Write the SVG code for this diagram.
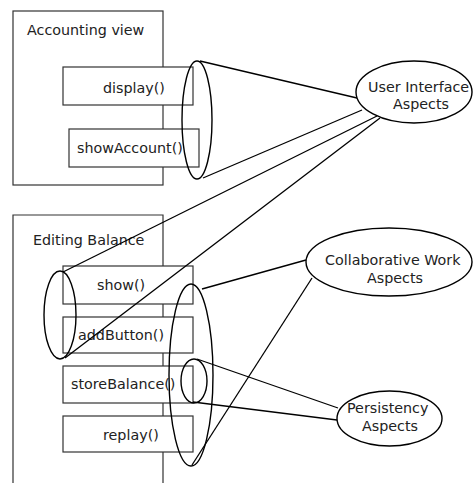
<svg xmlns="http://www.w3.org/2000/svg" width="473" height="483" viewBox="0 0 473 483">
<style>
text{font-family:"DejaVu Sans",Verdana,sans-serif;font-size:14.3px;fill:#222}
.box{fill:#fff;stroke:#333;stroke-width:1.2}
.cont{fill:none;stroke:#333;stroke-width:1.2}
.grp{fill:none;stroke:#000;stroke-width:1.4}
.asp{fill:#fff;stroke:#000;stroke-width:1.4}
.con line{stroke:#000;stroke-width:1.3}
</style>
<rect width="473" height="483" fill="#fff"/>
<g id="accounting-view">
<rect class="cont" x="13" y="11" width="150" height="174"/>
<text x="27" y="35">Accounting view</text>
</g>
<g id="editing-balance">
<path class="cont" d="M13,490 V215 H163 V490"/>
<text x="33" y="245">Editing Balance</text>
</g>
<g id="display"><rect class="box" x="63" y="67" width="130" height="38"/><text x="103" y="93">display()</text></g>
<g id="showAccount"><rect class="box" x="69" y="129" width="130" height="38"/><text x="77" y="153">showAccount()</text></g>
<g id="show"><rect class="box" x="63" y="266" width="130" height="38"/><text x="97" y="290">show()</text></g>
<g id="addButton"><rect class="box" x="63" y="317" width="130" height="36"/><text x="78" y="340">addButton()</text></g>
<g id="storeBalance"><rect class="box" x="63" y="366" width="130" height="37"/><text x="71" y="389">storeBalance()</text></g>
<g id="replay"><rect class="box" x="63" y="416" width="130" height="36"/><text x="103" y="440">replay()</text></g>
<g id="ui-group"><ellipse class="grp" cx="197" cy="120" rx="15" ry="59"/></g>
<g id="ui-group-2"><ellipse class="grp" cx="60" cy="315" rx="16" ry="44"/></g>
<g id="collab-group"><ellipse class="grp" cx="191" cy="375" rx="22" ry="91"/></g>
<g id="persist-group"><ellipse class="grp" cx="194" cy="381" rx="13" ry="22"/></g>
<g class="con" id="connectors">
<line x1="200" y1="61" x2="357" y2="98"/>
<line x1="203" y1="178" x2="362" y2="110"/>
<line x1="377" y1="116" x2="63" y2="272"/>
<line x1="380" y1="118" x2="65" y2="358"/>
<line x1="202" y1="289" x2="306" y2="260"/>
<line x1="192" y1="465" x2="312" y2="278"/>
<line x1="197" y1="359" x2="338" y2="408"/>
<line x1="193" y1="402" x2="337" y2="420"/>
</g>
<g id="user-interface-aspects">
<ellipse class="asp" cx="414" cy="92" rx="58" ry="31"/>
<text x="368" y="92">User Interface</text>
<text x="393" y="109">Aspects</text>
</g>
<g id="collaborative-work-aspects">
<ellipse class="asp" cx="389" cy="262" rx="83" ry="34"/>
<text x="325" y="265">Collaborative Work</text>
<text x="367" y="283">Aspects</text>
</g>
<g id="persistency-aspects">
<ellipse class="asp" cx="389.5" cy="418.5" rx="52.5" ry="27.5"/>
<text x="347" y="413">Persistency</text>
<text x="362" y="431">Aspects</text>
</g>
</svg>
